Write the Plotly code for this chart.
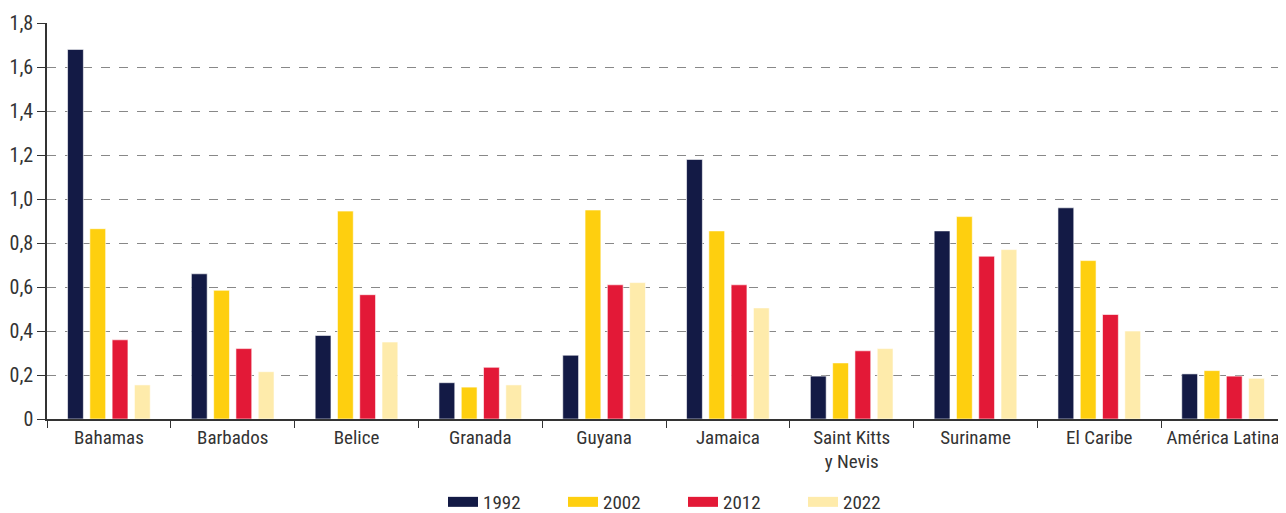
import plotly.graph_objects as go

categories = ["Bahamas", "Barbados", "Belice", "Granada", "Guyana", "Jamaica",
              "Saint Kitts<br>y Nevis", "Suriname", "El Caribe", "América Latina"]
years = ["1992", "2002", "2012", "2022"]
v1992 = [1.68, 0.66, 0.38, 0.165, 0.29, 1.18, 0.195, 0.855, 0.96, 0.205]
v2002 = [0.865, 0.585, 0.945, 0.145, 0.95, 0.855, 0.255, 0.92, 0.72, 0.22]
v2012 = [0.36, 0.32, 0.565, 0.235, 0.61, 0.61, 0.31, 0.74, 0.475, 0.195]
v2022 = [0.155, 0.215, 0.35, 0.155, 0.62, 0.505, 0.32, 0.77, 0.40, 0.185]
series = [v1992, v2002, v2012, v2022]
colors = ["#131a45", "#fecf0f", "#e31937", "#feebab"]
ytickvals = [0, 0.2, 0.4, 0.6, 0.8, 1.0, 1.2, 1.4, 1.6, 1.8]
yticktext = ["0", "0,2", "0,4", "0,6", "0,8", "1,0", "1,2", "1,4", "1,6", "1,8"]

font_family = "Roboto Condensed, Roboto, sans-serif"

# page body has an 8px default margin; figure size compensates for it
W, H = 1278, 505

fig = go.Figure()
for name, vals, col in zip(years, series, colors):
    fig.add_trace(go.Bar(
        x=categories, y=vals, name=name, showlegend=False,
        marker=dict(color=col, line=dict(color="white", width=0.6)),
    ))
# legend entries with wide rectangular swatches
for name, col in zip(years, colors):
    fig.add_trace(go.Scatter(
        x=[None], y=[None], name=name, mode="lines",
        line=dict(color=col, width=16), showlegend=True,
    ))

fig.update_layout(
    width=W, height=H,
    margin=dict(l=39, r=1, t=15, b=94),
    paper_bgcolor="white", plot_bgcolor="white",
    barmode="group", bargap=0.28, bargroupgap=0.29,
    font=dict(family=font_family, size=20, color="#333333"),
    showlegend=True,
    legend=dict(
        orientation="h", xref="container", yref="container",
        x=435 / W, xanchor="left", y=11 / H, yanchor="middle",
        entrywidth=75, entrywidthmode="pixels",
        font=dict(family=font_family, size=19, color="#333333"),
        traceorder="normal", bgcolor="rgba(0,0,0,0)",
    ),
    xaxis=dict(
        showline=True, linecolor="#333", linewidth=1.5,
        ticks="outside", tickson="boundaries", ticklen=7, tickcolor="#333",
        showgrid=False, tickfont=dict(size=19), tickangle=0, automargin=False,
    ),
    yaxis=dict(
        range=[0, 1.8], tickvals=ytickvals, ticktext=yticktext,
        showline=True, linecolor="#333", linewidth=1.5,
        ticks="outside", ticklen=8, tickcolor="#333",
        showgrid=True, gridcolor="#888", griddash="dash", gridwidth=1,
        zeroline=False, tickfont=dict(size=20), automargin=False,
    ),
)

fig.write_html("out.html")
